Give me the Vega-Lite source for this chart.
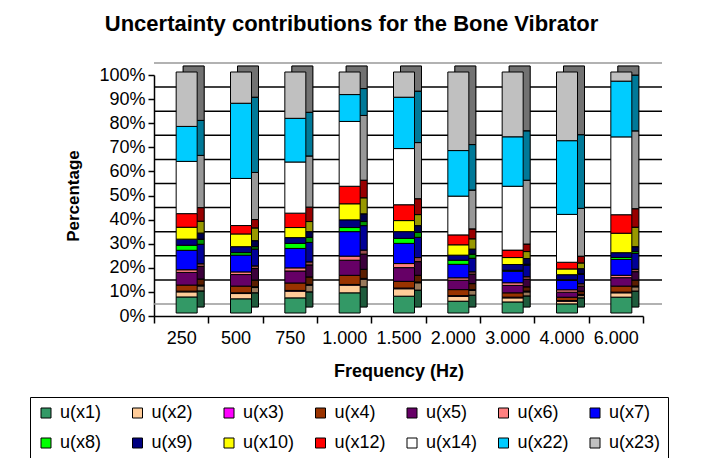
{
  "$schema": "https://vega.github.io/schema/vega-lite/v6.json",
  "autosize": {"type": "none"},
  "width": 489,
  "height": 241,
  "padding": {"left": 154, "top": 75, "right": 65, "bottom": 142},
  "background": "white",
  "title": {"text": "Uncertainty contributions for the Bone Vibrator", "font": "Liberation Sans", "fontSize": 22, "fontWeight": "bold", "color": "black", "anchor": "middle", "dx": -47, "offset": 26},
  "datasets": {
    "grid": [{"g": 0}, {"g": 0.1}, {"g": 0.2}, {"g": 0.3}, {"g": 0.4}, {"g": 0.5}, {"g": 0.6}, {"g": 0.7}, {"g": 0.8}, {"g": 0.9}, {"g": 1}],
    "bars": [
      {"f":"250","c":"u(x1)","i":1,"v":6.6},{"f":"250","c":"u(x2)","i":2,"v":2.1},{"f":"250","c":"u(x3)","i":3,"v":0.3},{"f":"250","c":"u(x4)","i":4,"v":2.5},{"f":"250","c":"u(x5)","i":5,"v":5.2},{"f":"250","c":"u(x6)","i":6,"v":1.1},{"f":"250","c":"u(x7)","i":7,"v":8.0},{"f":"250","c":"u(x8)","i":8,"v":2.1},{"f":"250","c":"u(x9)","i":9,"v":2.5},{"f":"250","c":"u(x10)","i":10,"v":4.9},{"f":"250","c":"u(x12)","i":11,"v":5.6},{"f":"250","c":"u(x14)","i":12,"v":21.5},{"f":"250","c":"u(x22)","i":13,"v":14.4},{"f":"250","c":"u(x23)","i":14,"v":22.4},
      {"f":"500","c":"u(x1)","i":1,"v":5.9},{"f":"500","c":"u(x2)","i":2,"v":2.2},{"f":"500","c":"u(x3)","i":3,"v":0.3},{"f":"500","c":"u(x4)","i":4,"v":2.8},{"f":"500","c":"u(x5)","i":5,"v":4.8},{"f":"500","c":"u(x6)","i":6,"v":1.1},{"f":"500","c":"u(x7)","i":7,"v":7.0},{"f":"500","c":"u(x8)","i":8,"v":1.0},{"f":"500","c":"u(x9)","i":9,"v":2.5},{"f":"500","c":"u(x10)","i":10,"v":5.3},{"f":"500","c":"u(x12)","i":11,"v":3.5},{"f":"500","c":"u(x14)","i":12,"v":19.6},{"f":"500","c":"u(x22)","i":13,"v":31.3},{"f":"500","c":"u(x23)","i":14,"v":13.0},
      {"f":"750","c":"u(x1)","i":1,"v":6.3},{"f":"750","c":"u(x2)","i":2,"v":2.8},{"f":"750","c":"u(x3)","i":3,"v":0.3},{"f":"750","c":"u(x4)","i":4,"v":3.1},{"f":"750","c":"u(x5)","i":5,"v":5.0},{"f":"750","c":"u(x6)","i":6,"v":1.3},{"f":"750","c":"u(x7)","i":7,"v":8.1},{"f":"750","c":"u(x8)","i":8,"v":2.1},{"f":"750","c":"u(x9)","i":9,"v":2.4},{"f":"750","c":"u(x10)","i":10,"v":4.2},{"f":"750","c":"u(x12)","i":11,"v":6.0},{"f":"750","c":"u(x14)","i":12,"v":21.3},{"f":"750","c":"u(x22)","i":13,"v":18.2},{"f":"750","c":"u(x23)","i":14,"v":19.3},
      {"f":"1.000","c":"u(x1)","i":1,"v":8.4},{"f":"1.000","c":"u(x2)","i":2,"v":3.2},{"f":"1.000","c":"u(x3)","i":3,"v":0.3},{"f":"1.000","c":"u(x4)","i":4,"v":3.8},{"f":"1.000","c":"u(x5)","i":5,"v":6.3},{"f":"1.000","c":"u(x6)","i":6,"v":1.7},{"f":"1.000","c":"u(x7)","i":7,"v":10.2},{"f":"1.000","c":"u(x8)","i":8,"v":1.7},{"f":"1.000","c":"u(x9)","i":9,"v":3.2},{"f":"1.000","c":"u(x10)","i":10,"v":6.7},{"f":"1.000","c":"u(x12)","i":11,"v":7.3},{"f":"1.000","c":"u(x14)","i":12,"v":27.0},{"f":"1.000","c":"u(x22)","i":13,"v":11.2},{"f":"1.000","c":"u(x23)","i":14,"v":9.4},
      {"f":"1.500","c":"u(x1)","i":1,"v":7.0},{"f":"1.500","c":"u(x2)","i":2,"v":3.1},{"f":"1.500","c":"u(x3)","i":3,"v":0.3},{"f":"1.500","c":"u(x4)","i":4,"v":2.8},{"f":"1.500","c":"u(x5)","i":5,"v":5.7},{"f":"1.500","c":"u(x6)","i":6,"v":1.7},{"f":"1.500","c":"u(x7)","i":7,"v":8.4},{"f":"1.500","c":"u(x8)","i":8,"v":2.1},{"f":"1.500","c":"u(x9)","i":9,"v":2.8},{"f":"1.500","c":"u(x10)","i":10,"v":4.6},{"f":"1.500","c":"u(x12)","i":11,"v":6.6},{"f":"1.500","c":"u(x14)","i":12,"v":23.4},{"f":"1.500","c":"u(x22)","i":13,"v":21.4},{"f":"1.500","c":"u(x23)","i":14,"v":10.5},
      {"f":"2.000","c":"u(x1)","i":1,"v":4.9},{"f":"2.000","c":"u(x2)","i":2,"v":2.0},{"f":"2.000","c":"u(x3)","i":3,"v":0.3},{"f":"2.000","c":"u(x4)","i":4,"v":2.5},{"f":"2.000","c":"u(x5)","i":5,"v":3.9},{"f":"2.000","c":"u(x6)","i":6,"v":1.0},{"f":"2.000","c":"u(x7)","i":7,"v":5.6},{"f":"2.000","c":"u(x8)","i":8,"v":1.7},{"f":"2.000","c":"u(x9)","i":9,"v":2.1},{"f":"2.000","c":"u(x10)","i":10,"v":4.3},{"f":"2.000","c":"u(x12)","i":11,"v":4.1},{"f":"2.000","c":"u(x14)","i":12,"v":16.1},{"f":"2.000","c":"u(x22)","i":13,"v":18.9},{"f":"2.000","c":"u(x23)","i":14,"v":32.6},
      {"f":"3.000","c":"u(x1)","i":1,"v":4.6},{"f":"3.000","c":"u(x2)","i":2,"v":1.7},{"f":"3.000","c":"u(x3)","i":3,"v":0.3},{"f":"3.000","c":"u(x4)","i":4,"v":1.8},{"f":"3.000","c":"u(x5)","i":5,"v":3.1},{"f":"3.000","c":"u(x6)","i":6,"v":1.1},{"f":"3.000","c":"u(x7)","i":7,"v":4.8},{"f":"3.000","c":"u(x8)","i":8,"v":0.4},{"f":"3.000","c":"u(x9)","i":9,"v":2.4},{"f":"3.000","c":"u(x10)","i":10,"v":2.9},{"f":"3.000","c":"u(x12)","i":11,"v":3.1},{"f":"3.000","c":"u(x14)","i":12,"v":26.6},{"f":"3.000","c":"u(x22)","i":13,"v":20.6},{"f":"3.000","c":"u(x23)","i":14,"v":27.0},
      {"f":"4.000","c":"u(x1)","i":1,"v":3.8},{"f":"4.000","c":"u(x2)","i":2,"v":1.1},{"f":"4.000","c":"u(x3)","i":3,"v":0.3},{"f":"4.000","c":"u(x4)","i":4,"v":1.4},{"f":"4.000","c":"u(x5)","i":5,"v":2.1},{"f":"4.000","c":"u(x6)","i":6,"v":1.0},{"f":"4.000","c":"u(x7)","i":7,"v":3.9},{"f":"4.000","c":"u(x8)","i":8,"v":0.3},{"f":"4.000","c":"u(x9)","i":9,"v":2.1},{"f":"4.000","c":"u(x10)","i":10,"v":2.4},{"f":"4.000","c":"u(x12)","i":11,"v":2.8},{"f":"4.000","c":"u(x14)","i":12,"v":20.0},{"f":"4.000","c":"u(x22)","i":13,"v":30.8},{"f":"4.000","c":"u(x23)","i":14,"v":28.7},
      {"f":"6.000","c":"u(x1)","i":1,"v":6.6},{"f":"6.000","c":"u(x2)","i":2,"v":1.8},{"f":"6.000","c":"u(x3)","i":3,"v":0.3},{"f":"6.000","c":"u(x4)","i":4,"v":2.5},{"f":"6.000","c":"u(x5)","i":5,"v":3.5},{"f":"6.000","c":"u(x6)","i":6,"v":1.0},{"f":"6.000","c":"u(x7)","i":7,"v":6.6},{"f":"6.000","c":"u(x8)","i":8,"v":0.8},{"f":"6.000","c":"u(x9)","i":9,"v":2.0},{"f":"6.000","c":"u(x10)","i":10,"v":8.1},{"f":"6.000","c":"u(x12)","i":11,"v":7.7},{"f":"6.000","c":"u(x14)","i":12,"v":32.4},{"f":"6.000","c":"u(x22)","i":13,"v":23.2},{"f":"6.000","c":"u(x23)","i":14,"v":3.8}
    ]
  },
  "layer": [
    {
      "data": {"name": "grid"},
      "mark": {"type": "rule", "strokeWidth": 1.5, "xOffset": 19, "x2Offset": 20, "yOffset": -12, "y2Offset": -12},
      "encoding": {
        "y": {"field": "g", "type": "quantitative", "title": "Percentage", "axis": {"labelOverlap": false, "format": "%", "values": [0, 0.1, 0.2, 0.3, 0.4, 0.5, 0.6, 0.7, 0.8, 0.9, 1]}},
        "color": {"condition": {"test": "datum.g == 0 || datum.g == 1", "value": "#999999"}, "value": "black"}
      }
    },
    {
      "data": {"name": "bars"},
      "mark": {"type": "bar", "size": 21, "xOffset": 12.5, "yOffset": -9, "y2Offset": -9, "stroke": "black", "strokeWidth": 1},
      "encoding": {
        "x": {"field": "f", "type": "nominal", "sort": null, "title": "Frequency (Hz)", "scale": {"paddingInner": 0, "paddingOuter": 0}},
        "y": {"field": "v", "type": "quantitative", "stack": "normalize", "title": "Percentage", "axis": {"labelOverlap": false, "format": "%", "values": [0, 0.1, 0.2, 0.3, 0.4, 0.5, 0.6, 0.7, 0.8, 0.9, 1]}},
        "color": {"field": "c", "type": "nominal", "title": null, "scale": {"domain": ["u(x1)","u(x2)","u(x3)","u(x4)","u(x5)","u(x6)","u(x7)","u(x8)","u(x9)","u(x10)","u(x12)","u(x14)","u(x22)","u(x23)"], "range": ["#339966","#FFCC99","#FF00FF","#993300","#660066","#FF8080","#0000FF","#00FF00","#000080","#FFFF00","#FF0000","#FFFFFF","#00CCFF","#C0C0C0"]}},
        "order": {"field": "i", "type": "quantitative"}
      }
    },
    {
      "data": {"name": "bars"},
      "mark": {"type": "bar", "size": 21, "xOffset": 12.5, "yOffset": -9, "y2Offset": -9, "color": "black", "opacity": 0.4, "stroke": "black", "strokeWidth": 1},
      "encoding": {
        "x": {"field": "f", "type": "nominal", "sort": null, "title": "Frequency (Hz)"},
        "y": {"field": "v", "type": "quantitative", "stack": "normalize", "title": "Percentage", "axis": {"labelOverlap": false, "format": "%", "values": [0, 0.1, 0.2, 0.3, 0.4, 0.5, 0.6, 0.7, 0.8, 0.9, 1]}},
        "detail": {"field": "c"},
        "order": {"field": "i", "type": "quantitative"}
      }
    },
    {
      "data": {"name": "bars"},
      "mark": {"type": "bar", "size": 21, "xOffset": 5.5, "yOffset": -3, "y2Offset": -3, "stroke": "black", "strokeWidth": 1, "opacity": 1},
      "encoding": {
        "x": {"field": "f", "type": "nominal", "sort": null, "title": "Frequency (Hz)"},
        "y": {"field": "v", "type": "quantitative", "stack": "normalize", "title": "Percentage", "axis": {"labelOverlap": false, "format": "%", "values": [0, 0.1, 0.2, 0.3, 0.4, 0.5, 0.6, 0.7, 0.8, 0.9, 1]}},
        "color": {"field": "c", "type": "nominal", "title": null},
        "order": {"field": "i", "type": "quantitative"}
      }
    }
  ],
  "config": {
    "view": {"stroke": null},
    "font": "Liberation Sans",
    "axis": {"grid": false, "domainColor": "black", "domainWidth": 1.5, "tickColor": "black", "tickWidth": 1.5, "labelColor": "black", "titleColor": "black", "labelFont": "Liberation Sans", "titleFont": "Liberation Sans", "labelFontSize": 18, "titleFontWeight": "bold", "labelOverlap": false},
    "axisY": {"tickSize": 6, "labelPadding": 3, "titlePadding": 16, "titleFontSize": 17},
    "axisX": {"labelAngle": 0, "tickBand": "extent", "tickSize": 7, "labelPadding": 6, "titlePadding": 15, "titleFontSize": 18},
    "legend": {"orient": "none", "legendX": -124, "legendY": 322, "columns": 7, "direction": "horizontal", "gridAlign": "all", "columnPadding": 16.5, "rowPadding": 12, "padding": 7, "strokeColor": "black", "fillColor": "white", "symbolType": "square", "symbolSize": 100, "symbolStrokeColor": "black", "symbolStrokeWidth": 1, "symbolOpacity": 1, "labelFont": "Liberation Sans", "labelFontSize": 18, "labelColor": "black", "labelOffset": 5}
  }
}
